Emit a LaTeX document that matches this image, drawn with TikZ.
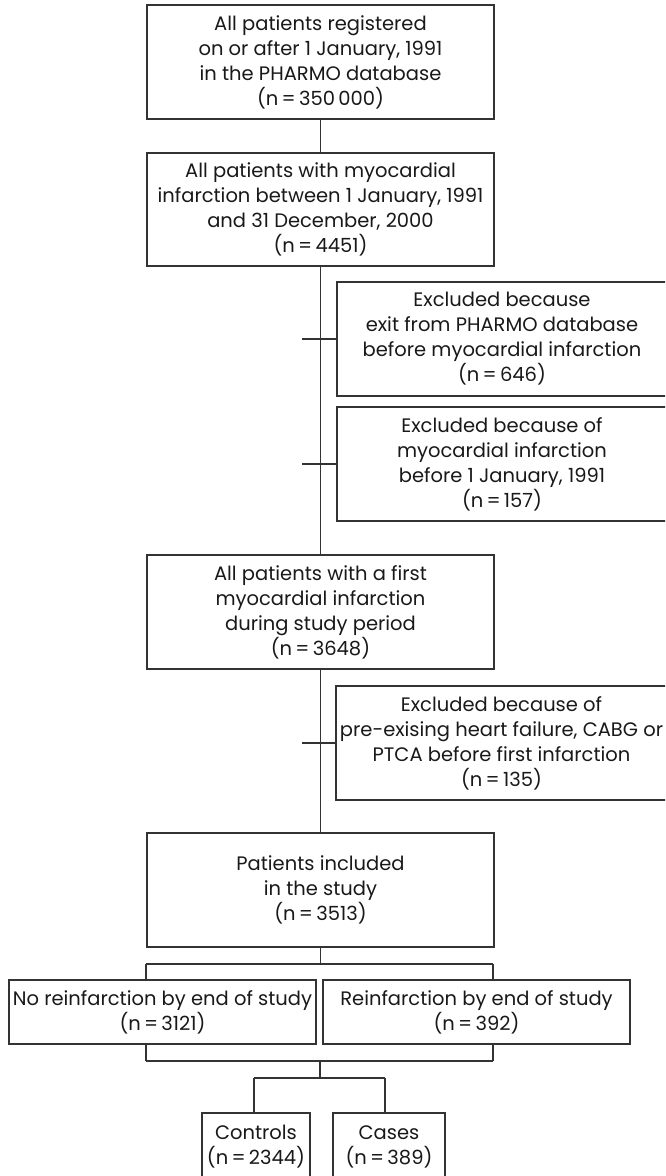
\documentclass[tikz,border=0pt]{standalone}
\usepackage{fontspec}
\setmainfont{Poppins}
\definecolor{lineclr}{gray}{0.2}
\definecolor{txtclr}{gray}{0.1}
\begin{document}
\begin{tikzpicture}[x=1pt,y=-1pt,
  box/.style={draw=lineclr, line width=1.9pt, rectangle, inner sep=0pt,
    align=center, text=txtclr, font=\fontsize{19.5}{25}\selectfont},
  wide/.style={box, minimum width=347pt, minimum height=114pt},
  excl/.style={box, minimum width=330pt, minimum height=114pt},
  conn/.style={draw=lineclr, line width=1.9pt}]
\clip (0,0) rectangle (665,1176);
\fill[white] (0,0) rectangle (665,1176);

\node[wide] (b1) at (320.5,62) {All patients registered\\on or after 1 January, 1991\\in the PHARMO database\\(n\,=\,350\,000)};
\node[wide, minimum height=113pt] (b2) at (320.5,209.5) {All patients with myocardial\\infarction between 1 January, 1991\\and 31 December, 2000\\(n\,=\,4451)};
\node[excl] (e1) at (502,339) {Excluded because\\exit from PHARMO database\\before myocardial infarction\\(n\,=\,646)};
\node[excl] (e2) at (502,464) {Excluded because of\\myocardial infarction\\before 1 January, 1991\\(n\,=\,157)};
\node[wide] (b3) at (320.5,612) {All patients with a first\\myocardial infarction\\during study period\\(n\,=\,3648)};
\node[excl, minimum width=331pt] (e3) at (501.5,743) {Excluded because of\\pre-exising heart failure, CABG or\\PTCA before first infarction\\(n\,=\,135)};
\node[wide] (b4) at (320.5,890) {Patients included\\in the study\\(n\,=\,3513)};
\node[box, minimum width=307pt, minimum height=64pt] (nr) at (162.5,1012) {No reinfarction by end of study\\(n\,=\,3121)};
\node[box, minimum width=307pt, minimum height=64pt] (r) at (476.5,1012) {Reinfarction by end of study\\(n\,=\,392)};
\node[box, minimum width=108pt, minimum height=67pt] (c1) at (256,1146.5) {Controls\\(n\,=\,2344)};
\node[box, minimum width=112pt, minimum height=67pt] (c2) at (389,1146.5) {Cases\\(n\,=\,389)};

% main trunk
\draw[conn] (b1.south) -- (b2.north);
\draw[conn] (b2.south) -- (b3.north);
\draw[conn] (b3.south) -- (b4.north);
% exclusion ticks
\coordinate (t1) at ([xshift=-34pt]e1.west);
\coordinate (t2) at ([xshift=-34pt]e2.west);
\coordinate (t3) at ([xshift=-33pt]e3.west);
\draw[conn] (t1) -- (e1.west);
\draw[conn] (t2) -- (e2.west);
\draw[conn] (t3) -- (e3.west);
% split into reinfarction groups
\coordinate (s1L) at (146,964);
\coordinate (s1R) at (493,964);
\draw[conn] (b4.south) -- (b4.south |- s1L);
\draw[conn] (s1L) -- (s1R);
\draw[conn] (s1L) -- (s1L |- nr.north);
\draw[conn] (s1R) -- (s1R |- r.north);
% merge
\coordinate (m1L) at (146,1061);
\coordinate (m1R) at (493,1061);
\coordinate (m1C) at (320,1061);
\draw[conn] (m1L |- nr.south) -- (m1L);
\draw[conn] (m1R |- r.south) -- (m1R);
\draw[conn] (m1L) -- (m1R);
\coordinate (s2C) at (320,1078);
\coordinate (s2L) at (254,1078);
\coordinate (s2R) at (385,1078);
\draw[conn] (m1C) -- (s2C);
\draw[conn] (s2L) -- (s2R);
\draw[conn] (s2L) -- (s2L |- c1.north);
\draw[conn] (s2R) -- (s2R |- c2.north);
\end{tikzpicture}
\end{document}
